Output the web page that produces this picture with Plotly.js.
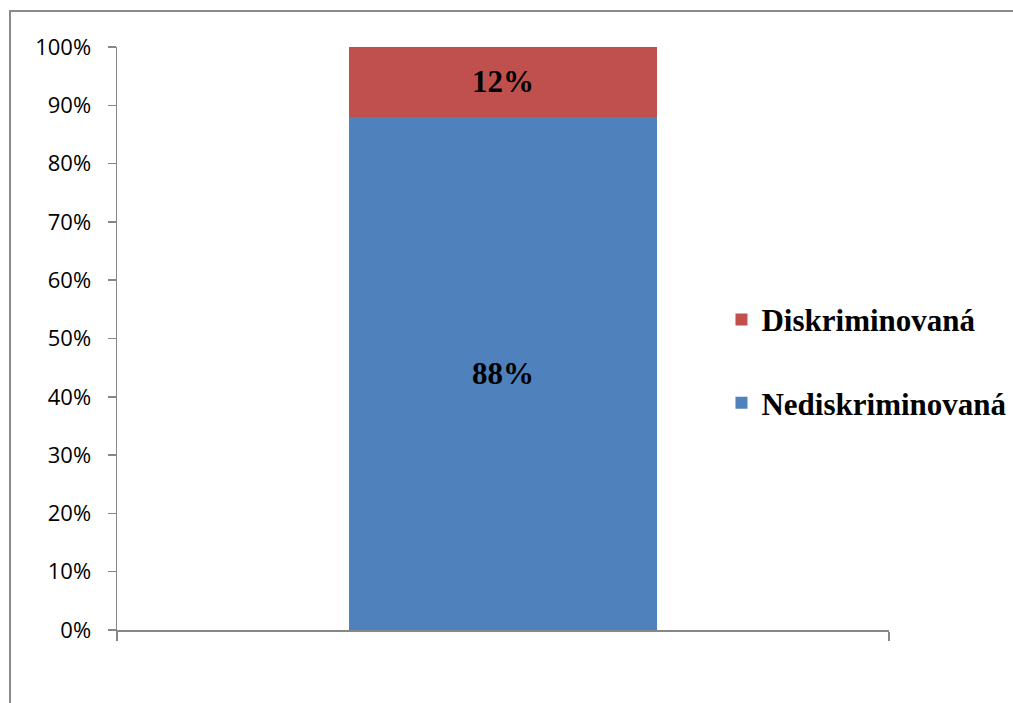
<!DOCTYPE html>
<html>
<head>
<meta charset="utf-8">
<script src="https://cdn.plot.ly/plotly-3.0.1.min.js"></script>
<style>
  html, body { margin: 0; padding: 0; background: #ffffff; }
  #chart { width: 1013px; height: 703px; }
</style>
</head>
<body>
<div id="chart"></div>
<script>
// Share of respondents by discrimination status (single stacked column)
const categories = [''];
const seriesNames = ['Nediskriminovaná', 'Diskriminovaná'];
const nediskriminovana = [0.88];
const diskriminovana = [0.12];
const seriesColors = ['#4F81BD', '#C0504D'];
const legendRanks = [2, 1];
const yTickVals = [0, 0.1, 0.2, 0.3, 0.4, 0.5, 0.6, 0.7, 0.8, 0.9, 1.0];

const serifBold = { family: 'Liberation Serif, Times New Roman, serif', size: 31, color: '#000000', weight: 'bold' };
const axisGrey = '#878787';

const seriesValues = [nediskriminovana, diskriminovana];
const traces = seriesNames.map((name, i) => ({
  type: 'bar',
  name: name,
  x: categories,
  y: seriesValues[i],
  legendgroup: 'g' + i,
  legendrank: legendRanks[i],
  marker: { color: seriesColors[i], line: { width: 0 } },
  texttemplate: '%{y:.0%}',
  textposition: 'inside',
  insidetextanchor: 'middle',
  textangle: 0,
  constraintext: 'none',
  insidetextfont: serifBold,
  hoverinfo: 'skip'
}));

const layout = {
  width: 1013,
  height: 703,
  margin: { l: 117, r: 124, t: 47, b: 73, pad: 0, autoexpand: false },
  paper_bgcolor: '#ffffff',
  plot_bgcolor: '#ffffff',
  barmode: 'stack',
  bargap: 0.6,
  showlegend: true,
  legend: {
    x: 0.783, xanchor: 'left',
    y: 0.461, yanchor: 'middle',
    traceorder: 'grouped',
    tracegroupgap: 40,
    font: serifBold,
    bgcolor: 'rgba(0,0,0,0)',
    itemclick: false
  },
  xaxis: {
    type: 'category',
    range: [-0.5, 0.5],
    showline: true,
    linecolor: axisGrey,
    linewidth: 1.5,
    ticks: 'outside',
    tickson: 'boundaries',
    ticklen: 9,
    tickcolor: axisGrey,
    tickwidth: 1.5,
    showticklabels: false,
    showgrid: false,
    zeroline: false,
    fixedrange: true
  },
  yaxis: {
    range: [0, 1],
    tickvals: yTickVals,
    tickformat: '.0%',
    showline: true,
    linecolor: axisGrey,
    linewidth: 1.5,
    ticks: 'outside',
    ticklen: 8,
    tickcolor: axisGrey,
    tickwidth: 1.5,
    ticklabelstandoff: 12,
    tickfont: { family: 'Open Sans, sans-serif', size: 22, color: '#000000' },
    showgrid: false,
    zeroline: false,
    fixedrange: true
  },
  shapes: [{
    // outer chart frame
    type: 'rect',
    xref: 'paper', yref: 'paper',
    x0: -0.1386, x1: 1.2,
    y0: -0.2, y1: 1.0617,
    line: { color: '#8a8a8a', width: 2 },
    fillcolor: 'rgba(0,0,0,0)',
    layer: 'below'
  }]
};

Plotly.newPlot('chart', traces, layout, { displayModeBar: false, staticPlot: true });
</script>
</body>
</html>
